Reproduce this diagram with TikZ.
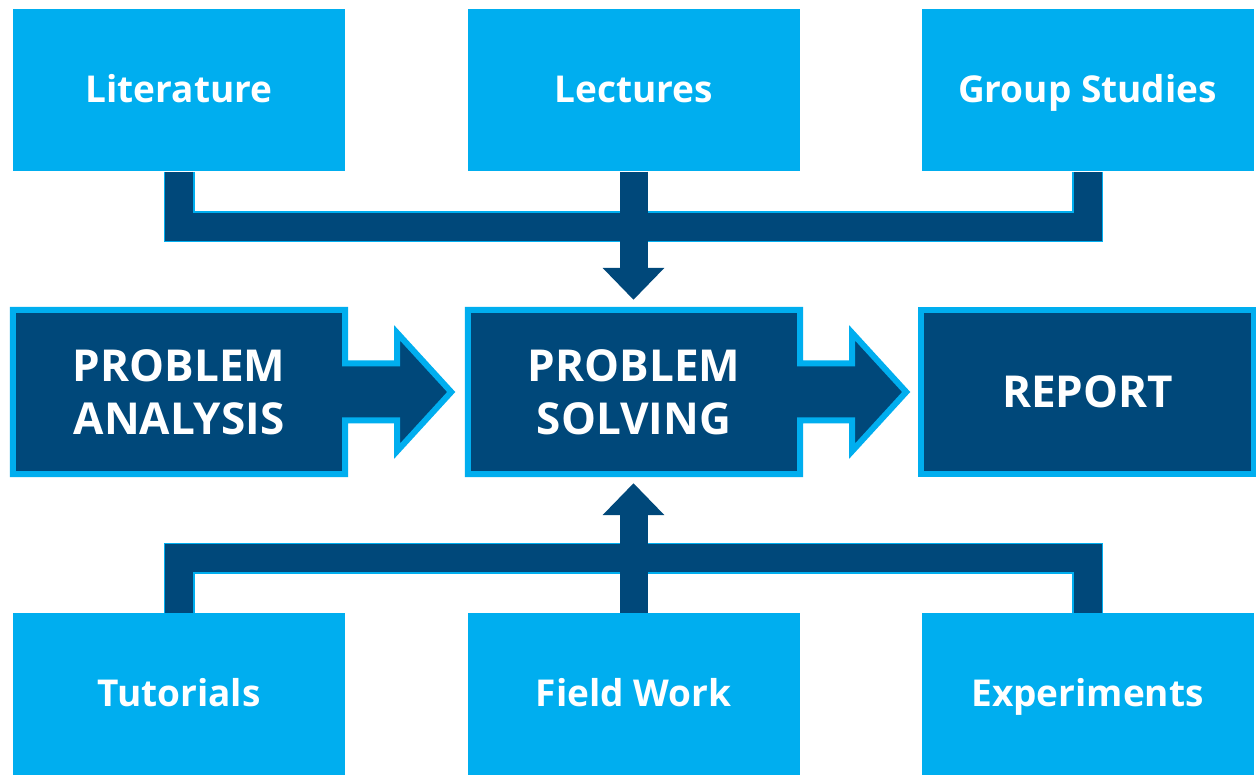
\documentclass[tikz,border=0pt]{standalone}
\usepackage{fontspec}
\setmainfont{Open Sans}
\usetikzlibrary{arrows.meta,calc,backgrounds}
\definecolor{lightb}{RGB}{0,174,239}
\definecolor{darkb}{RGB}{0,72,122}
\begin{document}
\begin{tikzpicture}[x=1pt,y=-1pt,
  lbox/.style={fill=lightb, text=white, minimum width=332pt, minimum height=162pt, inner sep=0pt,
     text height=30pt, text depth=5pt,
     font=\fontsize{37}{44}\selectfont\bfseries},
  dbox/.style={minimum width=332pt, minimum height=164pt, inner sep=0pt, text=white, align=center,
     font=\fontsize{44}{53}\selectfont\bfseries},
  flowshape/.style={fill=darkb, draw=lightb, line width=6pt, line join=miter},
  bracket/.style={draw=lightb, line width=1.5pt, double=darkb, double distance=28pt, line join=miter, line cap=butt},
  conn/.style={draw=darkb, line width=28pt, -{Triangle[width=60pt,length=32pt]}}
]
\useasboundingbox (0,0) rectangle (1256,775);
% top boxes
\node[lbox] (lit) at (179,90.5) {Literature};
\node[lbox] (lec) at (633.5,90.5) {Lectures};
\node[lbox] (grp) at (1087.5,90.5) {Group Studies};
% bottom boxes
\node[lbox] (tut) at (179,694) {Tutorials};
\node[lbox] (fw) at (633.5,694) {Field Work};
\node[lbox] (exp) at (1087.5,694) {Experiments};
% middle boxes
\node[dbox] (pa) at (179,392) {PROBLEM\\ANALYSIS};
\node[dbox] (ps) at (634,392) {PROBLEM\\SOLVING};
\node[dbox] (rep) at (1087.5,392) {REPORT};
\begin{scope}[on background layer]
  \fill[white] (0,0) rectangle (1256,775);
  \foreach \n in {pa,ps}{
    \draw[flowshape] (\n.north west) -- (\n.north east) -- ($(\n.east)+(0,-28.5)$)
      -- ($(\n.east)+(52,-28.5)$) -- ($(\n.east)+(52,-59)$) -- ($(\n.east)+(106,0)$)
      -- ($(\n.east)+(52,59)$) -- ($(\n.east)+(52,28.5)$) -- ($(\n.east)+(0,28.5)$)
      -- (\n.south east) -- (\n.south west) -- cycle;
  }
  \draw[flowshape] (rep.north west) rectangle (rep.south east);
\end{scope}
% connectors
\coordinate (tbar) at (0,227);
\coordinate (bbar) at (0,558);
\draw[bracket] (lit.south) -- (lit.south |- tbar) -- (grp.south |- tbar) -- (grp.south);
\draw[bracket] (tut.north) -- (tut.north |- bbar) -- (exp.north |- bbar) -- (exp.north);
\draw[conn, shorten >=10pt] (lec.south) -- (lec.south |- ps.north);
\draw[conn, shorten >=9pt] (fw.north) -- (fw.north |- ps.south);
\end{tikzpicture}
\end{document}
